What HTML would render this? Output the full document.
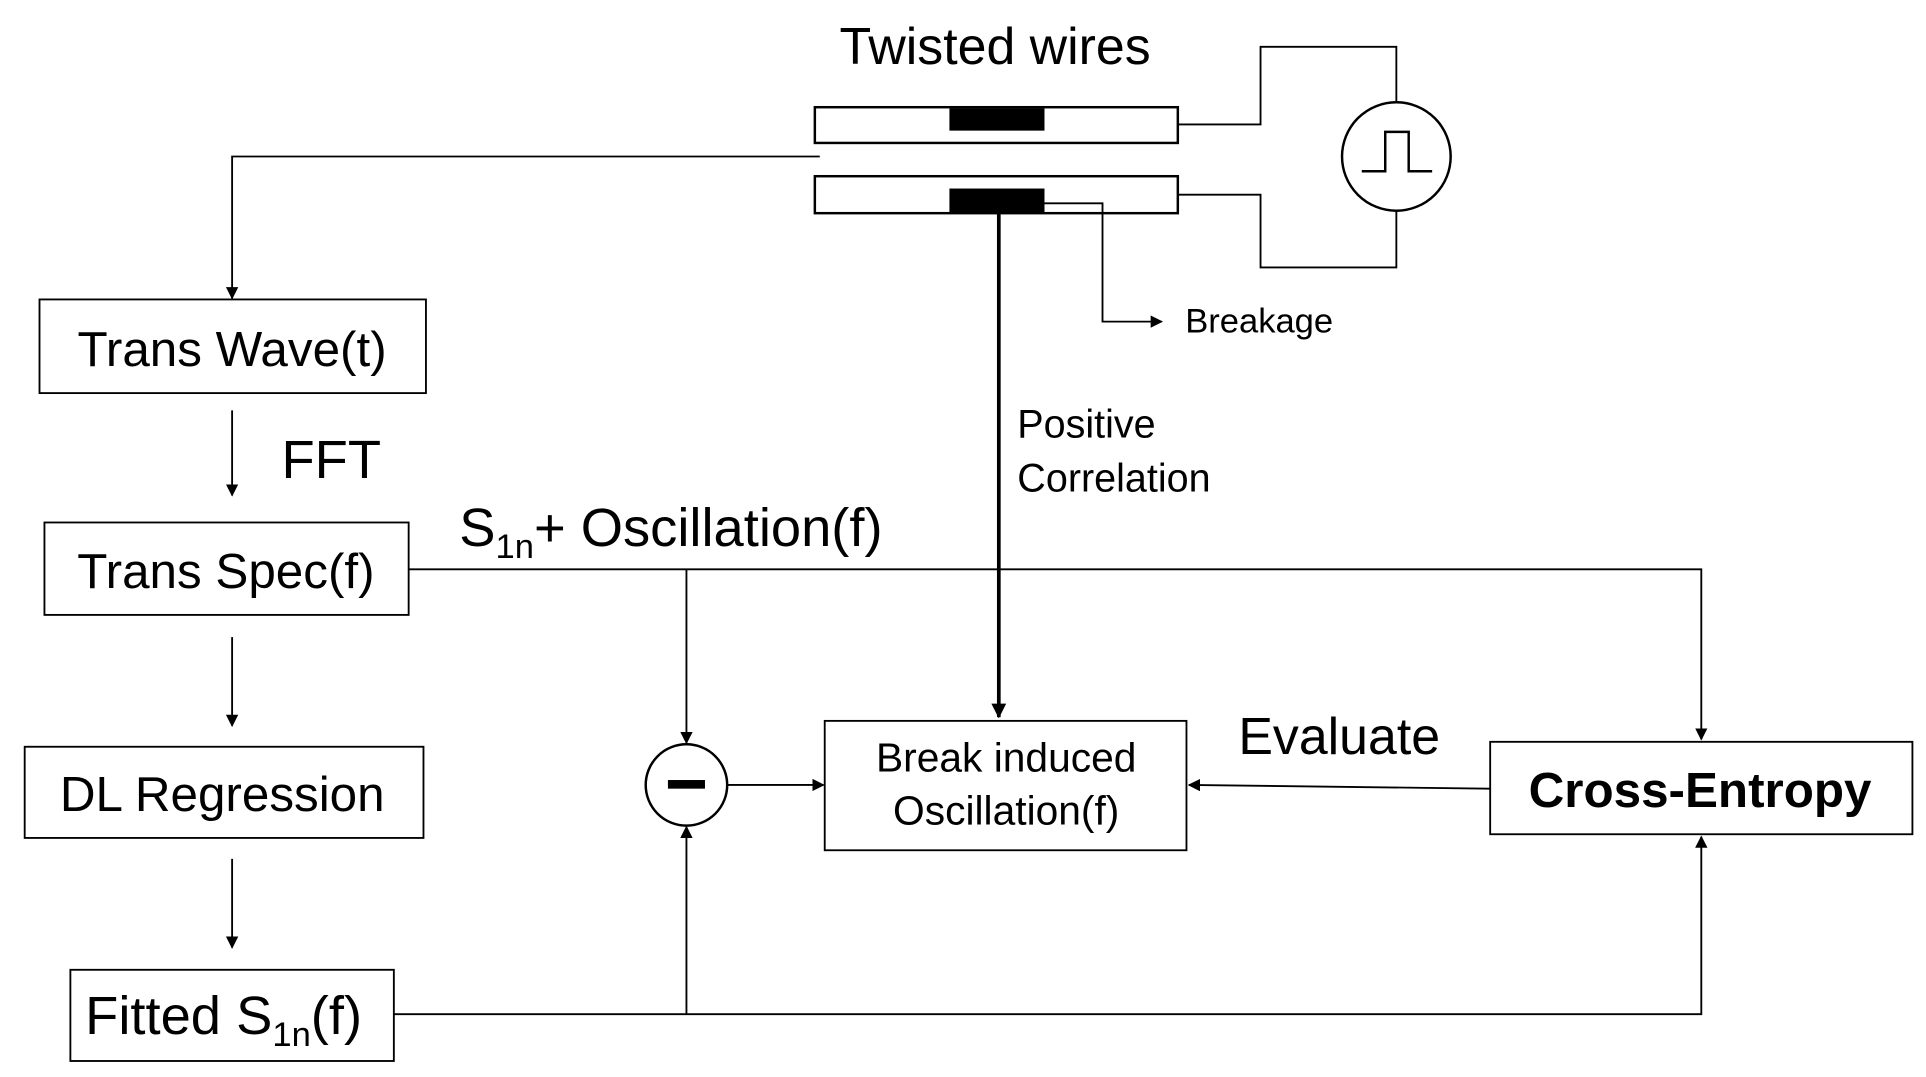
<!DOCTYPE html>
<html><head><meta charset="utf-8"><style>html,body{margin:0;padding:0;background:#fff}svg{display:block}</style></head>
<body>
<svg width="1926" height="1077" viewBox="0 0 1560 874" preserveAspectRatio="none" xmlns="http://www.w3.org/2000/svg" font-family="Liberation Sans, sans-serif">
<defs>
<marker id="a" markerWidth="10" markerHeight="10" refX="9" refY="5" orient="auto" markerUnits="userSpaceOnUse"><path d="M0,0 L10,5 L0,10 z" fill="#000"/></marker>
<marker id="b" markerWidth="12" markerHeight="12" refX="11" refY="6" orient="auto" markerUnits="userSpaceOnUse"><path d="M0,0 L12,6 L0,12 z" fill="#000"/></marker>
</defs>
<rect width="1560" height="874" fill="#fff"/>
<g fill="none" stroke="#000" stroke-width="1.5">
<text x="806" y="52" font-size="42" text-anchor="middle" fill="#000" stroke="none">Twisted wires</text>
<rect x="660" y="87" width="294" height="29" stroke-width="2"/>
<rect x="660" y="143" width="294" height="30" stroke-width="2"/>
<polyline points="954,101 1021,101 1021,38 1131,38 1131,83"/>
<polyline points="954,158 1021,158 1021,217 1131,217 1131,171"/>
<circle cx="1131" cy="127" r="44" stroke-width="2"/>
<polyline points="1103,139 1122,139 1122,107 1141,107 1141,139 1160,139" stroke-width="2"/>
<polyline points="664,127 188,127 188,242" marker-end="url(#a)"/>
<polyline points="846,165 893,165 893,261 941,261" marker-end="url(#a)"/>
<line x1="809" y1="173" x2="809" y2="582" stroke-width="3" marker-end="url(#b)"/>
<rect x="32" y="243" width="313" height="76"/>
<line x1="188" y1="333" x2="188" y2="402" marker-end="url(#a)"/>
<rect x="36" y="424" width="295" height="75"/>
<polyline points="331,462 1378,462 1378,600" marker-end="url(#a)"/>
<line x1="556" y1="462" x2="556" y2="603" marker-end="url(#a)"/>
<line x1="188" y1="517" x2="188" y2="589" marker-end="url(#a)"/>
<rect x="20" y="606" width="323" height="74"/>
<line x1="188" y1="697" x2="188" y2="769" marker-end="url(#a)"/>
<rect x="57" y="787" width="262" height="74"/>
<polyline points="319,823 1378,823 1378,679" marker-end="url(#a)"/>
<line x1="556" y1="823" x2="556" y2="671" marker-end="url(#a)"/>
<ellipse cx="556" cy="637" rx="33" ry="33" stroke-width="2"/>
<line x1="589" y1="637" x2="667" y2="637" marker-end="url(#a)"/>
<rect x="668" y="585" width="293" height="105"/>
<line x1="1207" y1="640" x2="963" y2="637" marker-end="url(#a)"/>
<rect x="1207" y="602" width="342" height="75"/>
</g>
<rect x="769" y="88" width="77" height="18" fill="#000"/>
<rect x="769" y="153" width="77" height="20" fill="#000"/>
<rect x="541" y="633" width="30" height="7" fill="#000"/>
<g fill="#000">
<text x="960" y="270" font-size="28">Breakage</text>
<text x="824" y="355" font-size="32">Positive</text>
<text x="824" y="399" font-size="32">Correlation</text>
<text x="188" y="297" font-size="40" text-anchor="middle">Trans Wave(t)</text>
<text x="228" y="388" font-size="44">FFT</text>
<text x="183" y="477" font-size="40" text-anchor="middle">Trans Spec(f)</text>
<text x="372" y="443" font-size="44">S<tspan font-size="28" dy="10">1n</tspan><tspan dy="-10">+ Oscillation(f)</tspan></text>
<text x="180" y="658" font-size="40" text-anchor="middle">DL Regression</text>
<text x="69" y="839" font-size="44">Fitted S<tspan font-size="28" dy="10">1n</tspan><tspan dy="-10">(f)</tspan></text>
<text x="815" y="626" font-size="33" text-anchor="middle">Break induced</text>
<text x="815" y="669" font-size="33" text-anchor="middle">Oscillation(f)</text>
<text x="1003" y="612" font-size="42">Evaluate</text>
<text x="1377" y="655" font-size="40" font-weight="bold" text-anchor="middle">Cross-Entropy</text>
</g>
</svg>
</body></html>
